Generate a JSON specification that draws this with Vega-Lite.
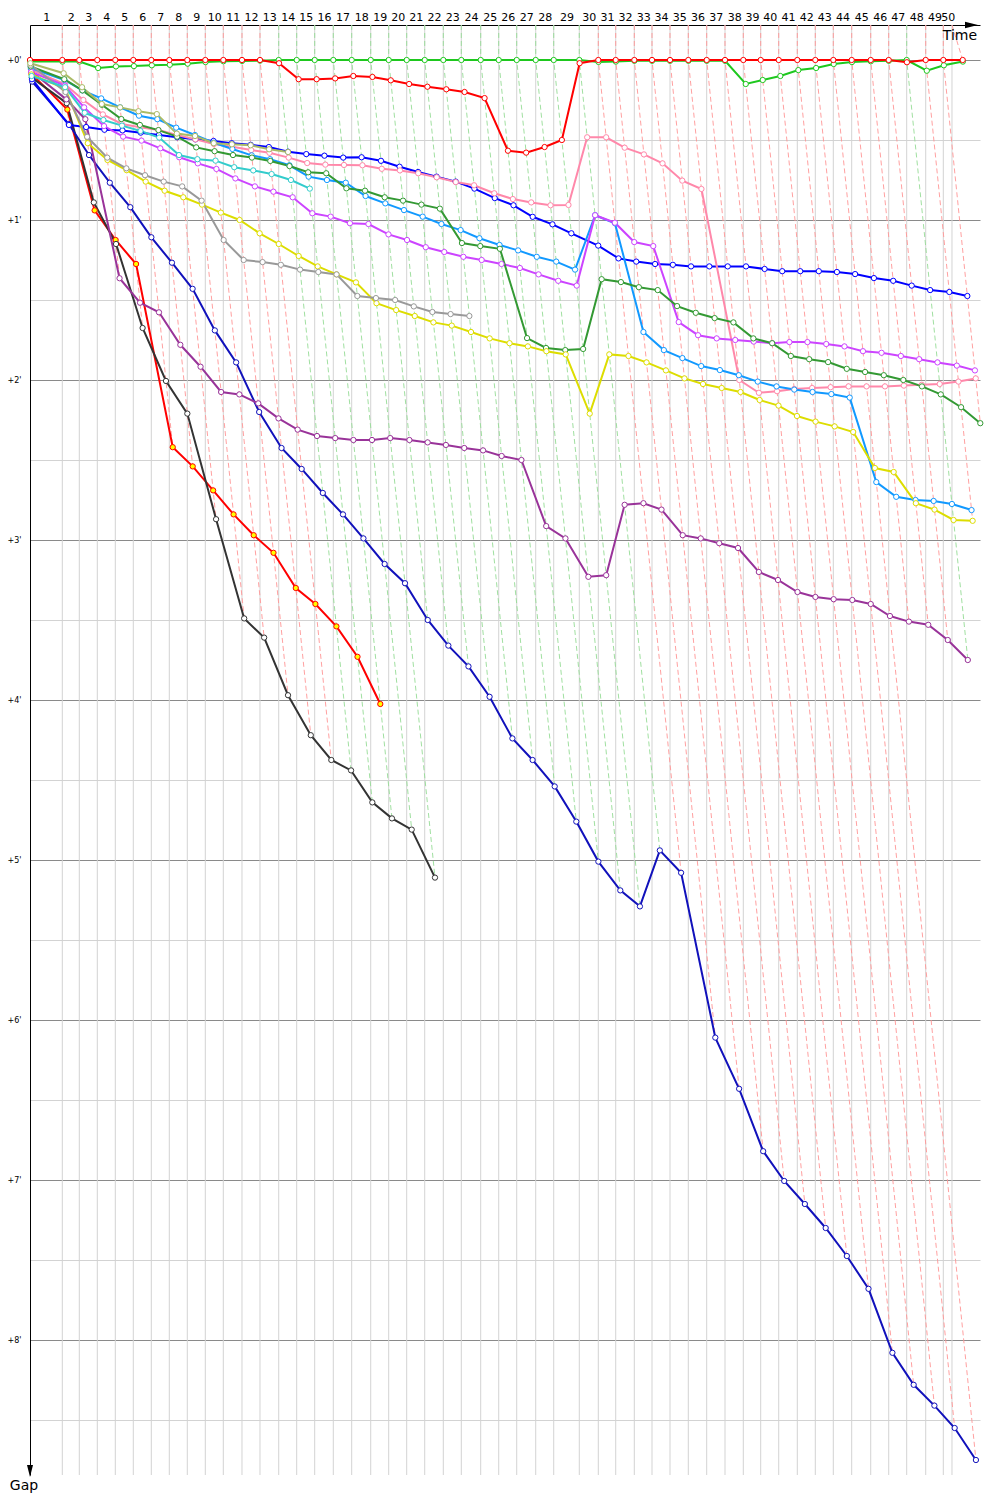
{
"$schema": "https://vega.github.io/schema/vega-lite/v6.json",
"width": 950, "height": 1450, "autosize": "none",
"padding": {"left": 30, "top": 25, "right": 20, "bottom": 25},
"background": "white",
"config": {"view": {"stroke": null}, "font": "DejaVu Sans", "axisX": {"labelOverlap": false, "labelBound": false, "labelFlush": false}},
"datasets": {
"laps": [
{"lap":1,"t":1.982,"lead":"R"},{"lap":2,"t":3.025,"lead":"R"},{"lap":3,"t":4.129,"lead":"R"},{"lap":4,"t":5.233,"lead":"R"},{"lap":5,"t":6.337,"lead":"R"},{"lap":6,"t":7.442,"lead":"R"},{"lap":7,"t":8.546,"lead":"R"},{"lap":8,"t":9.65,"lead":"R"},{"lap":9,"t":10.755,"lead":"R"},{"lap":10,"t":11.859,"lead":"R"},{"lap":11,"t":13.006,"lead":"R"},{"lap":12,"t":14.11,"lead":"R"},{"lap":13,"t":15.258,"lead":"G"},{"lap":14,"t":16.362,"lead":"G"},{"lap":15,"t":17.466,"lead":"G"},{"lap":16,"t":18.607,"lead":"G"},{"lap":17,"t":19.736,"lead":"G"},{"lap":18,"t":20.902,"lead":"G"},{"lap":19,"t":22.006,"lead":"G"},{"lap":20,"t":23.11,"lead":"G"},{"lap":21,"t":24.215,"lead":"G"},{"lap":22,"t":25.356,"lead":"G"},{"lap":23,"t":26.46,"lead":"G"},{"lap":24,"t":27.65,"lead":"G"},{"lap":25,"t":28.755,"lead":"G"},{"lap":26,"t":29.859,"lead":"G"},{"lap":27,"t":31.025,"lead":"G"},{"lap":28,"t":32.129,"lead":"G"},{"lap":29,"t":33.699,"lead":"G"},{"lap":30,"t":34.865,"lead":"R"},{"lap":31,"t":35.933,"lead":"R"},{"lap":32,"t":37.074,"lead":"R"},{"lap":33,"t":38.16,"lead":"R"},{"lap":34,"t":39.264,"lead":"R"},{"lap":35,"t":40.387,"lead":"R"},{"lap":36,"t":41.515,"lead":"R"},{"lap":37,"t":42.638,"lead":"R"},{"lap":38,"t":43.761,"lead":"R"},{"lap":39,"t":44.828,"lead":"R"},{"lap":40,"t":45.933,"lead":"R"},{"lap":41,"t":47.074,"lead":"R"},{"lap":42,"t":48.178,"lead":"R"},{"lap":43,"t":49.282,"lead":"R"},{"lap":44,"t":50.411,"lead":"R"},{"lap":45,"t":51.577,"lead":"R"},{"lap":46,"t":52.681,"lead":"R"},{"lap":47,"t":53.785,"lead":"G"},{"lap":48,"t":54.951,"lead":"R"},{"lap":49,"t":56.031,"lead":"R"},{"lap":50,"t":56.564,"lead":"R"}
],
"pts": [
{"d":"top","lap":1,"t":1.982,"g":-0.219},{"d":"top","lap":2,"t":3.025,"g":-0.219},{"d":"top","lap":3,"t":4.129,"g":-0.219},{"d":"top","lap":4,"t":5.233,"g":-0.219},{"d":"top","lap":5,"t":6.337,"g":-0.219},{"d":"top","lap":6,"t":7.442,"g":-0.219},{"d":"top","lap":7,"t":8.546,"g":-0.219},{"d":"top","lap":8,"t":9.65,"g":-0.219},{"d":"top","lap":9,"t":10.755,"g":-0.219},{"d":"top","lap":10,"t":11.859,"g":-0.219},{"d":"top","lap":11,"t":13.006,"g":-0.219},{"d":"top","lap":12,"t":14.11,"g":-0.219},{"d":"top","lap":13,"t":15.258,"g":-0.219},{"d":"top","lap":14,"t":16.362,"g":-0.219},{"d":"top","lap":15,"t":17.466,"g":-0.219},{"d":"top","lap":16,"t":18.607,"g":-0.219},{"d":"top","lap":17,"t":19.736,"g":-0.219},{"d":"top","lap":18,"t":20.902,"g":-0.219},{"d":"top","lap":19,"t":22.006,"g":-0.219},{"d":"top","lap":20,"t":23.11,"g":-0.219},{"d":"top","lap":21,"t":24.215,"g":-0.219},{"d":"top","lap":22,"t":25.356,"g":-0.219},{"d":"top","lap":23,"t":26.46,"g":-0.219},{"d":"top","lap":24,"t":27.65,"g":-0.219},{"d":"top","lap":25,"t":28.755,"g":-0.219},{"d":"top","lap":26,"t":29.859,"g":-0.219},{"d":"top","lap":27,"t":31.025,"g":-0.219},{"d":"top","lap":28,"t":32.129,"g":-0.219},{"d":"top","lap":29,"t":33.699,"g":-0.219},{"d":"top","lap":30,"t":34.865,"g":-0.219},{"d":"top","lap":31,"t":35.933,"g":-0.219},{"d":"top","lap":32,"t":37.074,"g":-0.219},{"d":"top","lap":33,"t":38.16,"g":-0.219},{"d":"top","lap":34,"t":39.264,"g":-0.219},{"d":"top","lap":35,"t":40.387,"g":-0.219},{"d":"top","lap":36,"t":41.515,"g":-0.219},{"d":"top","lap":37,"t":42.638,"g":-0.219},{"d":"top","lap":38,"t":43.761,"g":-0.219},{"d":"top","lap":39,"t":44.828,"g":-0.219},{"d":"top","lap":40,"t":45.933,"g":-0.219},{"d":"top","lap":41,"t":47.074,"g":-0.219},{"d":"top","lap":42,"t":48.178,"g":-0.219},{"d":"top","lap":43,"t":49.282,"g":-0.219},{"d":"top","lap":44,"t":50.411,"g":-0.219},{"d":"top","lap":45,"t":51.577,"g":-0.219},{"d":"top","lap":46,"t":52.681,"g":-0.219},{"d":"top","lap":47,"t":53.785,"g":-0.219},{"d":"top","lap":48,"t":54.951,"g":-0.219},{"d":"top","lap":49,"t":56.031,"g":-0.219},{"d":"top","lap":50,"t":56.564,"g":-0.219},

{"d":"G1","lap":0,"t":0.01,"g":0.01},{"d":"G1","lap":1,"t":1.992,"g":0.01},{"d":"G1","lap":2,"t":3.035,"g":0.01},{"d":"G1","lap":3,"t":4.179,"g":0.05},{"d":"G1","lap":4,"t":5.273,"g":0.04},{"d":"G1","lap":5,"t":6.375,"g":0.038},{"d":"G1","lap":6,"t":7.475,"g":0.033},{"d":"G1","lap":7,"t":8.576,"g":0.03},{"d":"G1","lap":8,"t":9.673,"g":0.023},{"d":"G1","lap":9,"t":10.768,"g":0.013},{"d":"G1","lap":10,"t":11.867,"g":0.008},{"d":"G1","lap":11,"t":13.012,"g":0.006},{"d":"G1","lap":12,"t":14.114,"g":0.004},{"d":"G1","lap":13,"t":15.258,"g":0},{"d":"G1","lap":14,"t":16.362,"g":0},{"d":"G1","lap":15,"t":17.466,"g":0},{"d":"G1","lap":16,"t":18.607,"g":0},{"d":"G1","lap":17,"t":19.736,"g":0},{"d":"G1","lap":18,"t":20.902,"g":0},{"d":"G1","lap":19,"t":22.006,"g":0},{"d":"G1","lap":20,"t":23.11,"g":0},{"d":"G1","lap":21,"t":24.215,"g":0},{"d":"G1","lap":22,"t":25.356,"g":0},{"d":"G1","lap":23,"t":26.46,"g":0},{"d":"G1","lap":24,"t":27.65,"g":0},{"d":"G1","lap":25,"t":28.755,"g":0},{"d":"G1","lap":26,"t":29.859,"g":0},{"d":"G1","lap":27,"t":31.025,"g":0},{"d":"G1","lap":28,"t":32.129,"g":0},{"d":"G1","lap":29,"t":33.699,"g":0},{"d":"G1","lap":30,"t":34.877,"g":0.012},{"d":"G1","lap":31,"t":35.943,"g":0.01},{"d":"G1","lap":32,"t":37.079,"g":0.005},{"d":"G1","lap":33,"t":38.165,"g":0.005},{"d":"G1","lap":34,"t":39.269,"g":0.005},{"d":"G1","lap":35,"t":40.392,"g":0.005},{"d":"G1","lap":36,"t":41.52,"g":0.005},{"d":"G1","lap":37,"t":42.643,"g":0.005},{"d":"G1","lap":38,"t":43.911,"g":0.15},{"d":"G1","lap":39,"t":44.953,"g":0.125},{"d":"G1","lap":40,"t":46.033,"g":0.1},{"d":"G1","lap":41,"t":47.137,"g":0.063},{"d":"G1","lap":42,"t":48.228,"g":0.05},{"d":"G1","lap":43,"t":49.307,"g":0.025},{"d":"G1","lap":44,"t":50.424,"g":0.013},{"d":"G1","lap":45,"t":51.585,"g":0.008},{"d":"G1","lap":46,"t":52.686,"g":0.005},{"d":"G1","lap":47,"t":53.785,"g":0},{"d":"G1","lap":48,"t":55.018,"g":0.067},{"d":"G1","lap":49,"t":56.064,"g":0.033},{"d":"G1","lap":50,"t":57.231,"g":0.01},

{"d":"R1","lap":0,"t":0,"g":0},{"d":"R1","lap":1,"t":1.982,"g":0},{"d":"R1","lap":2,"t":3.025,"g":0},{"d":"R1","lap":3,"t":4.129,"g":0},{"d":"R1","lap":4,"t":5.233,"g":0},{"d":"R1","lap":5,"t":6.337,"g":0},{"d":"R1","lap":6,"t":7.442,"g":0},{"d":"R1","lap":7,"t":8.546,"g":0},{"d":"R1","lap":8,"t":9.65,"g":0},{"d":"R1","lap":9,"t":10.755,"g":0},{"d":"R1","lap":10,"t":11.859,"g":0},{"d":"R1","lap":11,"t":13.006,"g":0},{"d":"R1","lap":12,"t":14.11,"g":0},{"d":"R1","lap":13,"t":15.278,"g":0.02},{"d":"R1","lap":14,"t":16.482,"g":0.12},{"d":"R1","lap":15,"t":17.586,"g":0.12},{"d":"R1","lap":16,"t":18.722,"g":0.115},{"d":"R1","lap":17,"t":19.836,"g":0.1},{"d":"R1","lap":18,"t":21.008,"g":0.106},{"d":"R1","lap":19,"t":22.133,"g":0.127},{"d":"R1","lap":20,"t":23.26,"g":0.15},{"d":"R1","lap":21,"t":24.382,"g":0.167},{"d":"R1","lap":22,"t":25.539,"g":0.183},{"d":"R1","lap":23,"t":26.66,"g":0.2},{"d":"R1","lap":24,"t":27.888,"g":0.238},{"d":"R1","lap":25,"t":29.322,"g":0.567},{"d":"R1","lap":26,"t":30.438,"g":0.579},{"d":"R1","lap":27,"t":31.569,"g":0.544},{"d":"R1","lap":28,"t":32.629,"g":0.5},{"d":"R1","lap":29,"t":33.719,"g":0.02},{"d":"R1","lap":30,"t":34.865,"g":0},{"d":"R1","lap":31,"t":35.933,"g":0},{"d":"R1","lap":32,"t":37.074,"g":0},{"d":"R1","lap":33,"t":38.16,"g":0},{"d":"R1","lap":34,"t":39.264,"g":0},{"d":"R1","lap":35,"t":40.387,"g":0},{"d":"R1","lap":36,"t":41.515,"g":0},{"d":"R1","lap":37,"t":42.638,"g":0},{"d":"R1","lap":38,"t":43.761,"g":0},{"d":"R1","lap":39,"t":44.828,"g":0},{"d":"R1","lap":40,"t":45.933,"g":0},{"d":"R1","lap":41,"t":47.074,"g":0},{"d":"R1","lap":42,"t":48.178,"g":0},{"d":"R1","lap":43,"t":49.282,"g":0},{"d":"R1","lap":44,"t":50.411,"g":0},{"d":"R1","lap":45,"t":51.577,"g":0},{"d":"R1","lap":46,"t":52.681,"g":0},{"d":"R1","lap":47,"t":53.799,"g":0.014},{"d":"R1","lap":48,"t":54.951,"g":0},{"d":"R1","lap":49,"t":56.031,"g":0},{"d":"R1","lap":50,"t":57.221,"g":0},

{"d":"R2","lap":0,"t":0.085,"g":0.085},{"d":"R2","lap":1,"t":2.292,"g":0.31},{"d":"R2","lap":2,"t":3.965,"g":0.94},{"d":"R2","lap":3,"t":5.254,"g":1.125},{"d":"R2","lap":4,"t":6.508,"g":1.275},{"d":"R2","lap":5,"t":8.757,"g":2.42},{"d":"R2","lap":6,"t":9.982,"g":2.54},{"d":"R2","lap":7,"t":11.236,"g":2.69},{"d":"R2","lap":8,"t":12.49,"g":2.84},{"d":"R2","lap":9,"t":13.725,"g":2.97},{"d":"R2","lap":10,"t":14.939,"g":3.08},{"d":"R2","lap":11,"t":16.306,"g":3.3},{"d":"R2","lap":12,"t":17.51,"g":3.4},{"d":"R2","lap":13,"t":18.798,"g":3.54},{"d":"R2","lap":14,"t":20.092,"g":3.73},{"d":"R2","lap":15,"t":21.491,"g":4.025},

{"d":"K","lap":0,"t":0.11,"g":0.11},{"d":"K","lap":1,"t":2.252,"g":0.27},{"d":"K","lap":2,"t":3.915,"g":0.89},{"d":"K","lap":3,"t":5.279,"g":1.15},{"d":"K","lap":4,"t":6.908,"g":1.675},{"d":"K","lap":5,"t":8.343,"g":2.006},{"d":"K","lap":6,"t":9.652,"g":2.21},{"d":"K","lap":7,"t":11.416,"g":2.87},{"d":"K","lap":8,"t":13.14,"g":3.49},{"d":"K","lap":9,"t":14.365,"g":3.61},{"d":"K","lap":10,"t":15.829,"g":3.97},{"d":"K","lap":11,"t":17.226,"g":4.22},{"d":"K","lap":12,"t":18.485,"g":4.375},{"d":"K","lap":13,"t":19.698,"g":4.44},{"d":"K","lap":14,"t":21.002,"g":4.64},{"d":"K","lap":15,"t":22.206,"g":4.74},{"d":"K","lap":16,"t":23.417,"g":4.81},{"d":"K","lap":17,"t":24.846,"g":5.11},

{"d":"N","lap":0,"t":0.135,"g":0.135},{"d":"N","lap":1,"t":2.382,"g":0.4},{"d":"N","lap":2,"t":3.619,"g":0.594},{"d":"N","lap":3,"t":4.896,"g":0.767},{"d":"N","lap":4,"t":6.153,"g":0.92},{"d":"N","lap":5,"t":7.445,"g":1.108},{"d":"N","lap":6,"t":8.709,"g":1.267},{"d":"N","lap":7,"t":9.976,"g":1.43},{"d":"N","lap":8,"t":11.34,"g":1.69},{"d":"N","lap":9,"t":12.645,"g":1.89},{"d":"N","lap":10,"t":14.059,"g":2.2},{"d":"N","lap":11,"t":15.431,"g":2.425},{"d":"N","lap":12,"t":16.666,"g":2.556},{"d":"N","lap":13,"t":17.964,"g":2.706},{"d":"N","lap":14,"t":19.202,"g":2.84},{"d":"N","lap":15,"t":20.456,"g":2.99},{"d":"N","lap":16,"t":21.757,"g":3.15},{"d":"N","lap":17,"t":23.006,"g":3.27},{"d":"N","lap":18,"t":24.402,"g":3.5},{"d":"N","lap":19,"t":25.666,"g":3.66},{"d":"N","lap":20,"t":26.9,"g":3.79},{"d":"N","lap":21,"t":28.195,"g":3.98},{"d":"N","lap":22,"t":29.596,"g":4.24},{"d":"N","lap":23,"t":30.835,"g":4.375},{"d":"N","lap":24,"t":32.19,"g":4.54},{"d":"N","lap":25,"t":33.515,"g":4.76},{"d":"N","lap":26,"t":34.869,"g":5.01},{"d":"N","lap":27,"t":36.215,"g":5.19},{"d":"N","lap":28,"t":37.419,"g":5.29},{"d":"N","lap":29,"t":38.639,"g":4.94},{"d":"N","lap":30,"t":39.945,"g":5.08},{"d":"N","lap":31,"t":42.043,"g":6.11},{"d":"N","lap":32,"t":43.504,"g":6.43},{"d":"N","lap":33,"t":44.98,"g":6.82},{"d":"N","lap":34,"t":46.27,"g":7.006},{"d":"N","lap":35,"t":47.537,"g":7.15},{"d":"N","lap":36,"t":48.815,"g":7.3},{"d":"N","lap":37,"t":50.113,"g":7.475},{"d":"N","lap":38,"t":51.441,"g":7.68},{"d":"N","lap":39,"t":52.908,"g":8.08},{"d":"N","lap":40,"t":54.213,"g":8.28},{"d":"N","lap":41,"t":55.484,"g":8.41},{"d":"N","lap":42,"t":56.728,"g":8.55},{"d":"N","lap":43,"t":58.032,"g":8.75},

{"d":"P","lap":0,"t":0.07,"g":0.07},{"d":"P","lap":1,"t":2.228,"g":0.246},{"d":"P","lap":2,"t":3.395,"g":0.37},{"d":"P","lap":3,"t":5.493,"g":1.364},{"d":"P","lap":4,"t":6.75,"g":1.517},{"d":"P","lap":5,"t":7.914,"g":1.577},{"d":"P","lap":6,"t":9.222,"g":1.78},{"d":"P","lap":7,"t":10.463,"g":1.917},{"d":"P","lap":8,"t":11.725,"g":2.075},{"d":"P","lap":9,"t":12.845,"g":2.09},{"d":"P","lap":10,"t":14.005,"g":2.146},{"d":"P","lap":11,"t":15.246,"g":2.24},{"d":"P","lap":12,"t":16.42,"g":2.31},{"d":"P","lap":13,"t":17.608,"g":2.35},{"d":"P","lap":14,"t":18.725,"g":2.363},{"d":"P","lap":15,"t":19.841,"g":2.375},{"d":"P","lap":16,"t":20.982,"g":2.375},{"d":"P","lap":17,"t":22.099,"g":2.363},{"d":"P","lap":18,"t":23.277,"g":2.375},{"d":"P","lap":19,"t":24.396,"g":2.39},{"d":"P","lap":20,"t":25.516,"g":2.406},{"d":"P","lap":21,"t":26.64,"g":2.425},{"d":"P","lap":22,"t":27.796,"g":2.44},{"d":"P","lap":23,"t":28.935,"g":2.475},{"d":"P","lap":24,"t":30.15,"g":2.5},{"d":"P","lap":25,"t":31.668,"g":2.913},{"d":"P","lap":26,"t":32.849,"g":2.99},{"d":"P","lap":27,"t":34.255,"g":3.23},{"d":"P","lap":28,"t":35.349,"g":3.22},{"d":"P","lap":29,"t":36.479,"g":2.78},{"d":"P","lap":30,"t":37.635,"g":2.77},{"d":"P","lap":31,"t":38.743,"g":2.81},{"d":"P","lap":32,"t":40.044,"g":2.97},{"d":"P","lap":33,"t":41.15,"g":2.99},{"d":"P","lap":34,"t":42.284,"g":3.02},{"d":"P","lap":35,"t":43.437,"g":3.05},{"d":"P","lap":36,"t":44.715,"g":3.2},{"d":"P","lap":37,"t":45.888,"g":3.25},{"d":"P","lap":38,"t":47.086,"g":3.325},{"d":"P","lap":39,"t":48.184,"g":3.356},{"d":"P","lap":40,"t":49.303,"g":3.37},{"d":"P","lap":41,"t":50.449,"g":3.375},{"d":"P","lap":42,"t":51.578,"g":3.4},{"d":"P","lap":43,"t":52.757,"g":3.475},{"d":"P","lap":44,"t":53.921,"g":3.51},{"d":"P","lap":45,"t":55.107,"g":3.53},{"d":"P","lap":46,"t":56.306,"g":3.625},{"d":"P","lap":47,"t":57.535,"g":3.75},

{"d":"B","lap":0,"t":0.12,"g":0.12},{"d":"B","lap":1,"t":2.388,"g":0.406},{"d":"B","lap":2,"t":3.444,"g":0.419},{"d":"B","lap":3,"t":4.565,"g":0.436},{"d":"B","lap":4,"t":5.673,"g":0.44},{"d":"B","lap":5,"t":6.791,"g":0.454},{"d":"B","lap":6,"t":7.911,"g":0.469},{"d":"B","lap":7,"t":9.029,"g":0.483},{"d":"B","lap":8,"t":10.146,"g":0.496},{"d":"B","lap":9,"t":11.261,"g":0.506},{"d":"B","lap":10,"t":12.379,"g":0.52},{"d":"B","lap":11,"t":13.536,"g":0.53},{"d":"B","lap":12,"t":14.654,"g":0.544},{"d":"B","lap":13,"t":15.831,"g":0.573},{"d":"B","lap":14,"t":16.95,"g":0.588},{"d":"B","lap":15,"t":18.064,"g":0.598},{"d":"B","lap":16,"t":19.217,"g":0.61},{"d":"B","lap":17,"t":20.344,"g":0.608},{"d":"B","lap":18,"t":21.532,"g":0.63},{"d":"B","lap":19,"t":22.673,"g":0.667},{"d":"B","lap":20,"t":23.81,"g":0.7},{"d":"B","lap":21,"t":24.944,"g":0.729},{"d":"B","lap":22,"t":26.116,"g":0.76},{"d":"B","lap":23,"t":27.264,"g":0.804},{"d":"B","lap":24,"t":28.513,"g":0.863},{"d":"B","lap":25,"t":29.663,"g":0.908},{"d":"B","lap":26,"t":30.839,"g":0.98},{"d":"B","lap":27,"t":32.052,"g":1.027},{"d":"B","lap":28,"t":33.212,"g":1.083},{"d":"B","lap":29,"t":34.859,"g":1.16},{"d":"B","lap":30,"t":36.105,"g":1.24},{"d":"B","lap":31,"t":37.193,"g":1.26},{"d":"B","lap":32,"t":38.349,"g":1.275},{"d":"B","lap":33,"t":39.44,"g":1.28},{"d":"B","lap":34,"t":40.554,"g":1.29},{"d":"B","lap":35,"t":41.677,"g":1.29},{"d":"B","lap":36,"t":42.805,"g":1.29},{"d":"B","lap":37,"t":43.928,"g":1.29},{"d":"B","lap":38,"t":45.067,"g":1.306},{"d":"B","lap":39,"t":46.148,"g":1.32},{"d":"B","lap":40,"t":47.253,"g":1.32},{"d":"B","lap":41,"t":48.394,"g":1.32},{"d":"B","lap":42,"t":49.503,"g":1.325},{"d":"B","lap":43,"t":50.62,"g":1.338},{"d":"B","lap":44,"t":51.774,"g":1.363},{"d":"B","lap":45,"t":52.957,"g":1.38},{"d":"B","lap":46,"t":54.091,"g":1.41},{"d":"B","lap":47,"t":55.223,"g":1.438},{"d":"B","lap":48,"t":56.401,"g":1.45},{"d":"B","lap":49,"t":57.506,"g":1.475},

{"d":"PK","lap":0,"t":0.06,"g":0.06},{"d":"PK","lap":1,"t":2.132,"g":0.15},{"d":"PK","lap":2,"t":3.275,"g":0.25},{"d":"PK","lap":3,"t":4.469,"g":0.34},{"d":"PK","lap":4,"t":5.633,"g":0.4},{"d":"PK","lap":5,"t":6.757,"g":0.42},{"d":"PK","lap":6,"t":7.88,"g":0.438},{"d":"PK","lap":7,"t":9.015,"g":0.469},{"d":"PK","lap":8,"t":10.146,"g":0.496},{"d":"PK","lap":9,"t":11.28,"g":0.525},{"d":"PK","lap":10,"t":12.401,"g":0.542},{"d":"PK","lap":11,"t":13.569,"g":0.563},{"d":"PK","lap":12,"t":14.69,"g":0.58},{"d":"PK","lap":13,"t":15.868,"g":0.61},{"d":"PK","lap":14,"t":17.006,"g":0.644},{"d":"PK","lap":15,"t":18.12,"g":0.654},{"d":"PK","lap":16,"t":19.263,"g":0.656},{"d":"PK","lap":17,"t":20.394,"g":0.658},{"d":"PK","lap":18,"t":21.582,"g":0.68},{"d":"PK","lap":19,"t":22.696,"g":0.69},{"d":"PK","lap":20,"t":23.818,"g":0.708},{"d":"PK","lap":21,"t":24.948,"g":0.733},{"d":"PK","lap":22,"t":26.119,"g":0.763},{"d":"PK","lap":23,"t":27.243,"g":0.783},{"d":"PK","lap":24,"t":28.483,"g":0.833},{"d":"PK","lap":25,"t":29.624,"g":0.869},{"d":"PK","lap":26,"t":30.749,"g":0.89},{"d":"PK","lap":27,"t":31.933,"g":0.908},{"d":"PK","lap":28,"t":33.035,"g":0.906},{"d":"PK","lap":29,"t":34.182,"g":0.483},{"d":"PK","lap":30,"t":35.348,"g":0.483},{"d":"PK","lap":31,"t":36.481,"g":0.548},{"d":"PK","lap":32,"t":37.664,"g":0.59},{"d":"PK","lap":33,"t":38.806,"g":0.646},{"d":"PK","lap":34,"t":40.018,"g":0.754},{"d":"PK","lap":35,"t":41.193,"g":0.806},{"d":"PK","lap":36,"t":43.515,"g":2.0},{"d":"PK","lap":37,"t":44.718,"g":2.08},{"d":"PK","lap":38,"t":45.831,"g":2.07},{"d":"PK","lap":39,"t":46.884,"g":2.056},{"d":"PK","lap":40,"t":47.983,"g":2.05},{"d":"PK","lap":41,"t":49.119,"g":2.045},{"d":"PK","lap":42,"t":50.218,"g":2.04},{"d":"PK","lap":43,"t":51.322,"g":2.04},{"d":"PK","lap":44,"t":52.451,"g":2.04},{"d":"PK","lap":45,"t":53.612,"g":2.035},{"d":"PK","lap":46,"t":54.711,"g":2.03},{"d":"PK","lap":47,"t":55.81,"g":2.025},{"d":"PK","lap":48,"t":56.961,"g":2.01},{"d":"PK","lap":49,"t":58.021,"g":1.99},

{"d":"LB","lap":0,"t":0.05,"g":0.05},{"d":"LB","lap":1,"t":2.107,"g":0.125},{"d":"LB","lap":2,"t":3.215,"g":0.19},{"d":"LB","lap":3,"t":4.369,"g":0.24},{"d":"LB","lap":4,"t":5.529,"g":0.296},{"d":"LB","lap":5,"t":6.685,"g":0.348},{"d":"LB","lap":6,"t":7.812,"g":0.37},{"d":"LB","lap":7,"t":8.969,"g":0.423},{"d":"LB","lap":8,"t":10.119,"g":0.469},{"d":"LB","lap":9,"t":11.272,"g":0.517},{"d":"LB","lap":10,"t":12.415,"g":0.556},{"d":"LB","lap":11,"t":13.602,"g":0.596},{"d":"LB","lap":12,"t":14.73,"g":0.62},{"d":"LB","lap":13,"t":15.916,"g":0.658},{"d":"LB","lap":14,"t":17.091,"g":0.729},{"d":"LB","lap":15,"t":18.216,"g":0.75},{"d":"LB","lap":16,"t":19.374,"g":0.767},{"d":"LB","lap":17,"t":20.586,"g":0.85},{"d":"LB","lap":18,"t":21.798,"g":0.896},{"d":"LB","lap":19,"t":22.944,"g":0.938},{"d":"LB","lap":20,"t":24.089,"g":0.979},{"d":"LB","lap":21,"t":25.24,"g":1.025},{"d":"LB","lap":22,"t":26.419,"g":1.063},{"d":"LB","lap":23,"t":27.574,"g":1.114},{"d":"LB","lap":24,"t":28.806,"g":1.156},{"d":"LB","lap":25,"t":29.945,"g":1.19},{"d":"LB","lap":26,"t":31.089,"g":1.23},{"d":"LB","lap":27,"t":32.285,"g":1.26},{"d":"LB","lap":28,"t":33.439,"g":1.31},{"d":"LB","lap":29,"t":34.669,"g":0.97},{"d":"LB","lap":30,"t":35.885,"g":1.02},{"d":"LB","lap":31,"t":37.633,"g":1.7},{"d":"LB","lap":32,"t":38.887,"g":1.813},{"d":"LB","lap":33,"t":40.023,"g":1.863},{"d":"LB","lap":34,"t":41.177,"g":1.913},{"d":"LB","lap":35,"t":42.325,"g":1.938},{"d":"LB","lap":36,"t":43.485,"g":1.97},{"d":"LB","lap":37,"t":44.648,"g":2.01},{"d":"LB","lap":38,"t":45.801,"g":2.04},{"d":"LB","lap":39,"t":46.888,"g":2.06},{"d":"LB","lap":40,"t":48.008,"g":2.075},{"d":"LB","lap":41,"t":49.162,"g":2.088},{"d":"LB","lap":42,"t":50.288,"g":2.11},{"d":"LB","lap":43,"t":51.92,"g":2.638},{"d":"LB","lap":44,"t":53.141,"g":2.73},{"d":"LB","lap":45,"t":54.327,"g":2.75},{"d":"LB","lap":46,"t":55.437,"g":2.756},{"d":"LB","lap":47,"t":56.56,"g":2.775},{"d":"LB","lap":48,"t":57.764,"g":2.813},

{"d":"V","lap":0,"t":0.075,"g":0.075},{"d":"V","lap":1,"t":2.142,"g":0.16},{"d":"V","lap":2,"t":3.321,"g":0.296},{"d":"V","lap":3,"t":4.542,"g":0.413},{"d":"V","lap":4,"t":5.712,"g":0.479},{"d":"V","lap":5,"t":6.841,"g":0.504},{"d":"V","lap":6,"t":7.994,"g":0.552},{"d":"V","lap":7,"t":9.154,"g":0.608},{"d":"V","lap":8,"t":10.296,"g":0.646},{"d":"V","lap":9,"t":11.436,"g":0.681},{"d":"V","lap":10,"t":12.599,"g":0.74},{"d":"V","lap":11,"t":13.796,"g":0.79},{"d":"V","lap":12,"t":14.933,"g":0.823},{"d":"V","lap":13,"t":16.116,"g":0.858},{"d":"V","lap":14,"t":17.32,"g":0.958},{"d":"V","lap":15,"t":18.445,"g":0.979},{"d":"V","lap":16,"t":19.627,"g":1.02},{"d":"V","lap":17,"t":20.761,"g":1.025},{"d":"V","lap":18,"t":21.992,"g":1.09},{"d":"V","lap":19,"t":23.131,"g":1.125},{"d":"V","lap":20,"t":24.28,"g":1.17},{"d":"V","lap":21,"t":25.415,"g":1.2},{"d":"V","lap":22,"t":26.586,"g":1.23},{"d":"V","lap":23,"t":27.71,"g":1.25},{"d":"V","lap":24,"t":28.925,"g":1.275},{"d":"V","lap":25,"t":30.055,"g":1.3},{"d":"V","lap":26,"t":31.199,"g":1.34},{"d":"V","lap":27,"t":32.405,"g":1.38},{"d":"V","lap":28,"t":33.539,"g":1.41},{"d":"V","lap":29,"t":34.669,"g":0.97},{"d":"V","lap":30,"t":35.882,"g":1.017},{"d":"V","lap":31,"t":37.071,"g":1.138},{"d":"V","lap":32,"t":38.237,"g":1.163},{"d":"V","lap":33,"t":39.798,"g":1.638},{"d":"V","lap":34,"t":40.984,"g":1.72},{"d":"V","lap":35,"t":42.127,"g":1.74},{"d":"V","lap":36,"t":43.265,"g":1.75},{"d":"V","lap":37,"t":44.398,"g":1.76},{"d":"V","lap":38,"t":45.531,"g":1.77},{"d":"V","lap":39,"t":46.591,"g":1.763},{"d":"V","lap":40,"t":47.696,"g":1.763},{"d":"V","lap":41,"t":48.849,"g":1.775},{"d":"V","lap":42,"t":49.968,"g":1.79},{"d":"V","lap":43,"t":51.102,"g":1.82},{"d":"V","lap":44,"t":52.241,"g":1.83},{"d":"V","lap":45,"t":53.427,"g":1.85},{"d":"V","lap":46,"t":54.551,"g":1.87},{"d":"V","lap":47,"t":55.675,"g":1.89},{"d":"V","lap":48,"t":56.861,"g":1.91},{"d":"V","lap":49,"t":57.971,"g":1.94},

{"d":"DG","lap":0,"t":0.04,"g":0.04},{"d":"DG","lap":1,"t":2.102,"g":0.12},{"d":"DG","lap":2,"t":3.215,"g":0.19},{"d":"DG","lap":3,"t":4.409,"g":0.28},{"d":"DG","lap":4,"t":5.602,"g":0.369},{"d":"DG","lap":5,"t":6.743,"g":0.406},{"d":"DG","lap":6,"t":7.88,"g":0.438},{"d":"DG","lap":7,"t":9.025,"g":0.479},{"d":"DG","lap":8,"t":10.196,"g":0.546},{"d":"DG","lap":9,"t":11.325,"g":0.57},{"d":"DG","lap":10,"t":12.453,"g":0.594},{"d":"DG","lap":11,"t":13.616,"g":0.61},{"d":"DG","lap":12,"t":14.741,"g":0.631},{"d":"DG","lap":13,"t":15.921,"g":0.663},{"d":"DG","lap":14,"t":17.064,"g":0.702},{"d":"DG","lap":15,"t":18.174,"g":0.708},{"d":"DG","lap":16,"t":19.409,"g":0.802},{"d":"DG","lap":17,"t":20.553,"g":0.817},{"d":"DG","lap":18,"t":21.76,"g":0.858},{"d":"DG","lap":19,"t":22.885,"g":0.879},{"d":"DG","lap":20,"t":24.014,"g":0.904},{"d":"DG","lap":21,"t":25.144,"g":0.929},{"d":"DG","lap":22,"t":26.5,"g":1.144},{"d":"DG","lap":23,"t":27.623,"g":1.163},{"d":"DG","lap":24,"t":28.83,"g":1.18},{"d":"DG","lap":25,"t":30.493,"g":1.738},{"d":"DG","lap":26,"t":31.659,"g":1.8},{"d":"DG","lap":27,"t":32.838,"g":1.813},{"d":"DG","lap":28,"t":33.935,"g":1.806},{"d":"DG","lap":29,"t":35.069,"g":1.37},{"d":"DG","lap":30,"t":36.253,"g":1.388},{"d":"DG","lap":31,"t":37.353,"g":1.42},{"d":"DG","lap":32,"t":38.512,"g":1.438},{"d":"DG","lap":33,"t":39.698,"g":1.538},{"d":"DG","lap":34,"t":40.844,"g":1.58},{"d":"DG","lap":35,"t":42.0,"g":1.613},{"d":"DG","lap":36,"t":43.155,"g":1.64},{"d":"DG","lap":37,"t":44.378,"g":1.74},{"d":"DG","lap":38,"t":45.531,"g":1.77},{"d":"DG","lap":39,"t":46.678,"g":1.85},{"d":"DG","lap":40,"t":47.803,"g":1.87},{"d":"DG","lap":41,"t":48.962,"g":1.888},{"d":"DG","lap":42,"t":50.108,"g":1.93},{"d":"DG","lap":43,"t":51.232,"g":1.95},{"d":"DG","lap":44,"t":52.381,"g":1.97},{"d":"DG","lap":45,"t":53.577,"g":2.0},{"d":"DG","lap":46,"t":54.721,"g":2.04},{"d":"DG","lap":47,"t":55.875,"g":2.09},{"d":"DG","lap":48,"t":57.121,"g":2.17},{"d":"DG","lap":49,"t":58.301,"g":2.27},

{"d":"Y","lap":0,"t":0.09,"g":0.09},{"d":"Y","lap":1,"t":2.162,"g":0.18},{"d":"Y","lap":2,"t":3.545,"g":0.52},{"d":"Y","lap":3,"t":4.754,"g":0.625},{"d":"Y","lap":4,"t":5.921,"g":0.688},{"d":"Y","lap":5,"t":7.097,"g":0.76},{"d":"Y","lap":6,"t":8.259,"g":0.817},{"d":"Y","lap":7,"t":9.404,"g":0.858},{"d":"Y","lap":8,"t":10.554,"g":0.904},{"d":"Y","lap":9,"t":11.709,"g":0.954},{"d":"Y","lap":10,"t":12.859,"g":1.0},{"d":"Y","lap":11,"t":14.089,"g":1.083},{"d":"Y","lap":12,"t":15.26,"g":1.15},{"d":"Y","lap":13,"t":16.483,"g":1.225},{"d":"Y","lap":14,"t":17.652,"g":1.29},{"d":"Y","lap":15,"t":18.806,"g":1.34},{"d":"Y","lap":16,"t":19.997,"g":1.39},{"d":"Y","lap":17,"t":21.256,"g":1.52},{"d":"Y","lap":18,"t":22.465,"g":1.563},{"d":"Y","lap":19,"t":23.606,"g":1.6},{"d":"Y","lap":20,"t":24.75,"g":1.64},{"d":"Y","lap":21,"t":25.875,"g":1.66},{"d":"Y","lap":22,"t":27.056,"g":1.7},{"d":"Y","lap":23,"t":28.2,"g":1.74},{"d":"Y","lap":24,"t":29.42,"g":1.77},{"d":"Y","lap":25,"t":30.545,"g":1.79},{"d":"Y","lap":26,"t":31.679,"g":1.82},{"d":"Y","lap":27,"t":32.865,"g":1.84},{"d":"Y","lap":28,"t":34.339,"g":2.21},{"d":"Y","lap":29,"t":35.539,"g":1.84},{"d":"Y","lap":30,"t":36.715,"g":1.85},{"d":"Y","lap":31,"t":37.823,"g":1.89},{"d":"Y","lap":32,"t":39.014,"g":1.94},{"d":"Y","lap":33,"t":40.15,"g":1.99},{"d":"Y","lap":34,"t":41.289,"g":2.025},{"d":"Y","lap":35,"t":42.437,"g":2.05},{"d":"Y","lap":36,"t":43.59,"g":2.075},{"d":"Y","lap":37,"t":44.763,"g":2.125},{"d":"Y","lap":38,"t":45.921,"g":2.16},{"d":"Y","lap":39,"t":47.053,"g":2.225},{"d":"Y","lap":40,"t":48.193,"g":2.26},{"d":"Y","lap":41,"t":49.364,"g":2.29},{"d":"Y","lap":42,"t":50.503,"g":2.325},{"d":"Y","lap":43,"t":51.832,"g":2.55},{"d":"Y","lap":44,"t":52.986,"g":2.575},{"d":"Y","lap":45,"t":54.347,"g":2.77},{"d":"Y","lap":46,"t":55.491,"g":2.81},{"d":"Y","lap":47,"t":56.66,"g":2.875},{"d":"Y","lap":48,"t":57.831,"g":2.88},

{"d":"GR","lap":0,"t":0.03,"g":0.03},{"d":"GR","lap":1,"t":2.182,"g":0.2},{"d":"GR","lap":2,"t":3.505,"g":0.48},{"d":"GR","lap":3,"t":4.739,"g":0.61},{"d":"GR","lap":4,"t":5.91,"g":0.677},{"d":"GR","lap":5,"t":7.057,"g":0.72},{"d":"GR","lap":6,"t":8.202,"g":0.76},{"d":"GR","lap":7,"t":9.336,"g":0.79},{"d":"GR","lap":8,"t":10.529,"g":0.879},{"d":"GR","lap":9,"t":11.88,"g":1.125},{"d":"GR","lap":10,"t":13.109,"g":1.25},{"d":"GR","lap":11,"t":14.269,"g":1.263},{"d":"GR","lap":12,"t":15.39,"g":1.28},{"d":"GR","lap":13,"t":16.568,"g":1.31},{"d":"GR","lap":14,"t":17.687,"g":1.325},{"d":"GR","lap":15,"t":18.806,"g":1.34},{"d":"GR","lap":16,"t":20.082,"g":1.475},{"d":"GR","lap":17,"t":21.224,"g":1.488},{"d":"GR","lap":18,"t":22.402,"g":1.5},{"d":"GR","lap":19,"t":23.546,"g":1.54},{"d":"GR","lap":20,"t":24.685,"g":1.575},{"d":"GR","lap":21,"t":25.803,"g":1.588},{"d":"GR","lap":22,"t":26.956,"g":1.6},

{"d":"C","lap":0,"t":0.1,"g":0.1},{"d":"C","lap":1,"t":2.152,"g":0.17},{"d":"C","lap":2,"t":3.355,"g":0.33},{"d":"C","lap":3,"t":4.504,"g":0.375},{"d":"C","lap":4,"t":5.643,"g":0.41},{"d":"C","lap":5,"t":6.781,"g":0.444},{"d":"C","lap":6,"t":7.927,"g":0.485},{"d":"C","lap":7,"t":9.14,"g":0.594},{"d":"C","lap":8,"t":10.27,"g":0.62},{"d":"C","lap":9,"t":11.384,"g":0.629},{"d":"C","lap":10,"t":12.529,"g":0.67},{"d":"C","lap":11,"t":13.696,"g":0.69},{"d":"C","lap":12,"t":14.823,"g":0.713},{"d":"C","lap":13,"t":16.008,"g":0.75},{"d":"C","lap":14,"t":17.166,"g":0.804},

{"d":"OL","lap":0,"t":0.02,"g":0.02},{"d":"OL","lap":1,"t":2.065,"g":0.083},{"d":"OL","lap":2,"t":3.195,"g":0.17},{"d":"OL","lap":3,"t":4.404,"g":0.275},{"d":"OL","lap":4,"t":5.529,"g":0.296},{"d":"OL","lap":5,"t":6.657,"g":0.32},{"d":"OL","lap":6,"t":7.78,"g":0.338},{"d":"OL","lap":7,"t":9.006,"g":0.46},{"d":"OL","lap":8,"t":10.125,"g":0.475},{"d":"OL","lap":9,"t":11.275,"g":0.52},{"d":"OL","lap":10,"t":12.386,"g":0.527},{"d":"OL","lap":11,"t":13.539,"g":0.533},{"d":"OL","lap":12,"t":14.668,"g":0.558},{"d":"OL","lap":13,"t":15.833,"g":0.575}
]
},
"layer": [
{
"data": {"name": "laps"},
"mark": {"type": "rule", "color": "#d3d3d3", "strokeWidth": 1},
"encoding": {
"x": {"field": "t", "type": "quantitative", "title": null,
"scale": {"domain": [0, 58.282], "nice": false, "zero": false},
"axis": {"orient": "top", "grid": false, "ticks": false, "domainColor": "black", "domainWidth": 1, "tickCount": 200,
"labelColor": "black", "labelFontSize": 11, "labelPadding": 3, "labelOverlap": false, "labelFlush": false, "labelBound": false,
"values": [0.991,2.5035,3.577,4.681,5.785,6.8895,7.994,9.098,10.2025,11.307,12.4325,13.558,14.684,15.81,16.914,18.0365,19.1715,20.319,21.454,22.558,23.6625,24.7855,25.908,27.055,28.2025,29.307,30.442,31.577,32.914,34.282,35.399,36.5035,37.617,38.712,39.8255,40.951,42.0765,43.1995,44.2945,45.3805,46.5035,47.626,48.73,49.8465,50.994,52.129,53.233,54.368,55.491,56.2975],
"labelExpr": "indexof([0.991,2.5035,3.577,4.681,5.785,6.8895,7.994,9.098,10.2025,11.307,12.4325,13.558,14.684,15.81,16.914,18.0365,19.1715,20.319,21.454,22.558,23.6625,24.7855,25.908,27.055,28.2025,29.307,30.442,31.577,32.914,34.282,35.399,36.5035,37.617,38.712,39.8255,40.951,42.0765,43.1995,44.2945,45.3805,46.5035,47.626,48.73,49.8465,50.994,52.129,53.233,54.368,55.491,56.2975], datum.value) + 1"}}
}
},
{
"data": {"name": "pts"},
"transform": [
{"filter": "datum.lap > 0"},
{"lookup": "lap", "from": {"data": {"name": "laps"}, "key": "lap", "fields": ["lead"]}}
],
"mark": {"type": "line", "strokeWidth": 1, "strokeDash": [5, 3], "opacity": 0.9},
"encoding": {
"x": {"field": "t", "type": "quantitative", "title": null},
"y": {"field": "g", "type": "quantitative", "title": null,
"scale": {"domain": [-0.21875, 8.84375], "reverse": true, "nice": false, "zero": false},
"axis": {"orient": "left", "grid": true, "ticks": false, "domainColor": "black", "domainWidth": 1, "tickCount": 100,
"values": [0,0.5,1,1.5,2,2.5,3,3.5,4,4.5,5,5.5,6,6.5,7,7.5,8,8.5],
"gridColor": {"condition": {"test": "datum.value % 1 === 0", "value": "#8a8a8a"}, "value": "#d3d3d3"},
"labelExpr": "datum.value % 1 === 0 ? '+' + datum.value + \"'\" : ''",
"labelFontSize": 8, "labelColor": "black", "labelPadding": 9}},
"detail": {"field": "lap", "type": "nominal"},
"order": {"field": "g", "type": "quantitative"},
"stroke": {"field": "lead", "type": "nominal", "legend": null,
"scale": {"domain": ["R", "G"], "range": ["#ff9696", "#96dc96"]}}
}
},
{
"data": {"name": "pts"},
"transform": [{"filter": "datum.d !== 'top'"}],
"mark": {"type": "line", "strokeWidth": 2},
"encoding": {
"x": {"field": "t", "type": "quantitative", "title": null},
"y": {"field": "g", "type": "quantitative", "title": null},
"order": {"field": "lap", "type": "quantitative"},
"color": {"field": "d", "type": "nominal", "legend": null,
"scale": {"domain": ["G1","R1","R2","K","N","P","B","PK","LB","V","DG","Y","GR","C","OL"],
"range": ["#1ec81e","#ff0000","#ff0000","#333333","#1111bb","#993399","#0000ff","#ff88aa","#1199ff","#cc44ff","#339933","#dddd00","#999999","#33cccc","#aabb66"]}}
}
},
{
"data": {"name": "pts"},
"transform": [{"filter": "datum.d !== 'top'"}],
"mark": {"type": "point", "size": 28, "strokeWidth": 1, "opacity": 1},
"encoding": {
"x": {"field": "t", "type": "quantitative", "title": null},
"y": {"field": "g", "type": "quantitative", "title": null},
"color": {"field": "d", "type": "nominal", "legend": null},
"fill": {"condition": {"test": "datum.d === 'R2'", "value": "#ffff00"}, "value": "white"}
}
},
{
"data": {"values": [{}]},
"mark": {"type": "point", "shape": "M -1 -0.5 L 1 0 L -1 0.5 Z", "filled": true, "color": "black", "size": 169, "opacity": 1},
"encoding": {"x": {"datum": 57.76, "title": null}, "y": {"datum": -0.21875, "title": null}}
},
{
"data": {"values": [{}]},
"mark": {"type": "point", "shape": "M -0.5 -1 L 0.5 -1 L 0 1 Z", "filled": true, "color": "black", "size": 144, "opacity": 1},
"encoding": {"x": {"datum": 0, "title": null}, "y": {"datum": 8.819, "title": null}}
},
{
"data": {"values": [{}]},
"mark": {"type": "text", "text": "Time", "fontSize": 14, "align": "right", "baseline": "middle", "color": "black"},
"encoding": {"x": {"datum": 58.1, "title": null}, "y": {"datum": -0.15, "title": null}}
},
{
"data": {"values": [{}]},
"mark": {"type": "text", "text": "Gap", "fontSize": 14, "align": "center", "baseline": "middle", "color": "black"},
"encoding": {"x": {"datum": -0.37, "title": null}, "y": {"datum": 8.91, "title": null}}
}
]
}
